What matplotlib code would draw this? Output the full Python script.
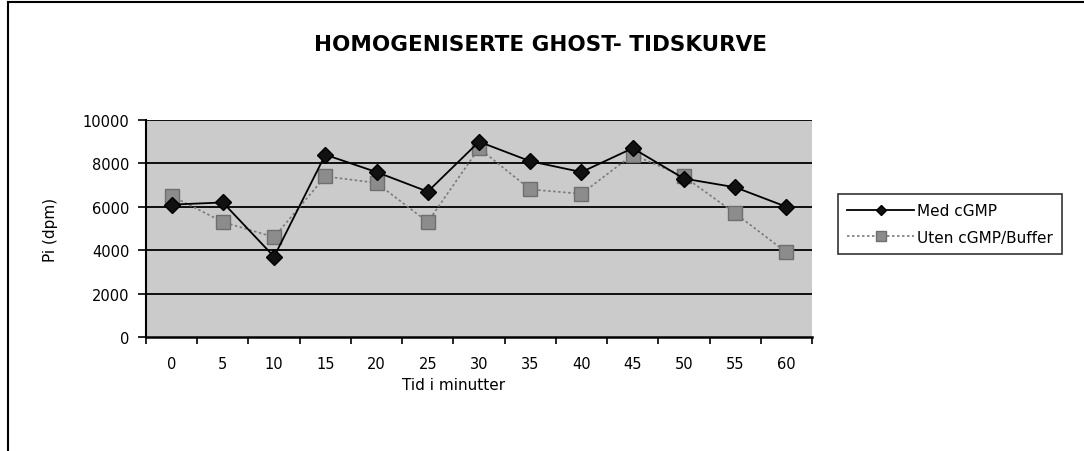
import matplotlib.pyplot as plt
from matplotlib.lines import Line2D

# data
tid = ["0", "5", "10", "15", "20", "25", "30", "35", "40", "45", "50", "55", "60"]
med_cgmp = [6100, 6200, 3700, 8400, 7600, 6700, 9000, 8100, 7600, 8700, 7300, 6900, 6000]
uten_cgmp = [6500, 5300, 4600, 7400, 7100, 5300, 8700, 6800, 6600, 8400, 7400, 5700, 3900]
yticks = [0, 2000, 4000, 6000, 8000, 10000]


def main():
    plt.rcParams["font.family"] = ["DejaVu Sans"]
    W, H = 1084, 452
    fig = plt.figure(figsize=(W / 100, H / 100), dpi=100)

    # outer chart frame (top and left edges only visible in the scan)
    fig.add_artist(Line2D([8 / W, 8 / W], [0, 1 - 3 / H], color="black", lw=1.5))
    fig.add_artist(Line2D([8 / W, 1], [1 - 3 / H, 1 - 3 / H], color="black", lw=1.5))

    ax = fig.add_axes([146 / W, 1 - 338 / H, (812 - 146) / W, (338 - 121) / H])
    ax.set_facecolor("#cbcbcb")
    x = list(range(len(tid)))

    for v in yticks[1:]:
        ax.axhline(v, color="black", lw=1.3, zorder=1)

    ax.plot(x, uten_cgmp, color="#7a7a7a", ls=(0, (1.5, 1.5)), lw=1.2,
            marker="s", ms=10.5, mfc="#8c8c8c", mec="#6e6e6e", zorder=2,
            label="Uten cGMP/Buffer")
    ax.plot(x, med_cgmp, color="black", lw=1.3,
            marker="D", ms=8, mfc="#111111", mec="black", zorder=3,
            label="Med cGMP")

    ax.set_xlim(-0.5, len(tid) - 0.5)
    ax.set_ylim(0, 10000)
    ax.set_yticks(yticks)
    ax.set_yticklabels([str(v) for v in yticks], fontsize=10.5)
    ax.set_xticks([i - 0.5 for i in range(len(tid) + 1)])
    ax.set_xticklabels([])
    ax.set_xticks(x, minor=True)
    ax.set_xticklabels(tid, minor=True, fontsize=10.5)
    ax.tick_params(axis="x", which="minor", length=0, pad=14)
    ax.tick_params(axis="x", which="major", length=5, width=1.2, direction="out")
    ax.tick_params(axis="y", length=6, width=1.2, direction="out", pad=6)

    for side in ["top", "right"]:
        ax.spines[side].set_visible(False)
    ax.spines["left"].set_linewidth(1.5)
    ax.spines["bottom"].set_linewidth(1.8)

    ax.set_ylabel("Pi (dpm)", fontsize=11)
    ax.yaxis.set_label_coords(-0.132, 0.5)
    ax.set_xlabel("Tid i minutter", fontsize=11)
    ax.xaxis.set_label_coords(0.462, -0.185)

    fig.text(540 / W, 1 - 45 / H, "HOMOGENISERTE GHOST- TIDSKURVE",
             ha="center", va="center", fontsize=15.5, fontweight="bold")

    handles, labels = ax.get_legend_handles_labels()
    leg = fig.legend(handles[::-1], labels[::-1],
                     loc="upper left", bbox_to_anchor=(838 / W, 1 - 195 / H),
                     fontsize=11, frameon=True, fancybox=False,
                     edgecolor="black", handlelength=4.4, borderpad=0.6,
                     labelspacing=0.75, handletextpad=0.2, borderaxespad=0,
                     markerscale=0.65)
    leg.get_frame().set_linewidth(1.2)

    fig.savefig("out.png", dpi=100, facecolor="white")
    plt.close(fig)


if __name__ == '__main__':
    main()
